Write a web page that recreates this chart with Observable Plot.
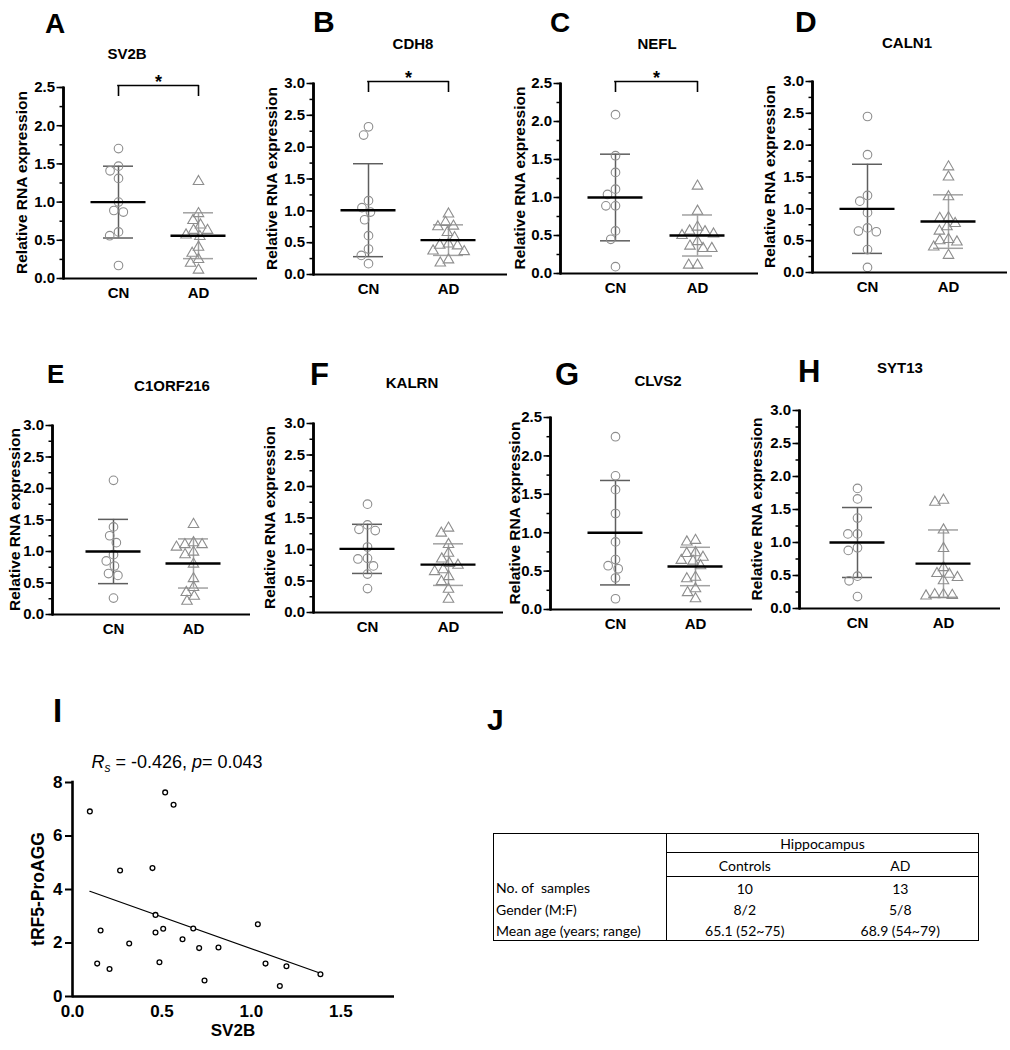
<!DOCTYPE html>
<html><head><meta charset="utf-8">
<script src="https://cdn.jsdelivr.net/npm/d3@7"></script>
<script src="https://cdn.jsdelivr.net/npm/@observablehq/plot@0.6"></script>
<style>
html,body{margin:0;padding:0;background:#fff;}
#fig{position:relative;width:1010px;height:1050px;background:#fff;overflow:hidden;}
#fig > svg{position:absolute;}
#tbl{position:absolute;left:493px;top:833px;width:485px;border-collapse:collapse;table-layout:fixed;
  font-family:Lato,"Liberation Sans",sans-serif;font-size:14px;line-height:1;color:#000;border:1.5px solid #000;}
#tbl td{padding:2px 2px 0 2px;white-space:pre;vertical-align:middle;}
#tbl td.ctr{text-align:center;}
#tbl td.c0{border-right:1.5px solid #000;}
#tbl td.hip{border-bottom:1.2px solid #000;}
#tbl tr.r1 td{height:16px;}
#tbl tr.r2 td{height:21px;border-bottom:1.5px solid #000;}
#tbl tr.d td{height:19px;}
</style></head>
<body><div id="fig"></div>
<script>
// ---------------- DATA ----------------
const genes = ["SV2B","CDH8","NEFL","CALN1","C1ORF216","KALRN","CLVS2","SYT13"];
const panelLetters = ["A","B","C","D","E","F","G","H"];
const groups = ["CN","AD"];
const yMax = [2.5,3.0,2.5,3.0,3.0,3.0,2.5,3.0];
const significant = [true,true,true,false,false,false,false,false];
const cnValues = [
  [1.70,1.47,1.41,1.31,1.00,0.89,0.87,0.61,0.56,0.17],
  [2.32,2.19,1.16,1.05,0.98,0.86,0.61,0.40,0.30,0.17],
  [2.09,1.55,1.33,1.11,1.04,0.89,0.89,0.56,0.45,0.09],
  [2.45,1.85,1.21,1.12,0.94,0.70,0.65,0.64,0.36,0.08],
  [2.13,1.39,1.25,1.14,0.95,0.85,0.77,0.65,0.62,0.26],
  [1.72,1.39,1.32,1.30,1.04,0.86,0.85,0.74,0.61,0.38],
  [2.25,1.74,1.56,1.25,0.88,0.65,0.57,0.53,0.41,0.14],
  [1.82,1.66,1.37,1.13,1.13,0.92,0.88,0.49,0.42,0.18]
];
const adValues = [
  [1.27,0.85,0.76,0.70,0.63,0.63,0.57,0.55,0.41,0.33,0.25,0.20,0.11],
  [0.95,0.82,0.76,0.75,0.66,0.58,0.48,0.46,0.45,0.37,0.36,0.23,0.18],
  [1.15,0.82,0.61,0.56,0.55,0.52,0.50,0.42,0.36,0.33,0.33,0.11,0.11],
  [1.66,1.50,1.19,0.86,0.85,0.77,0.72,0.65,0.52,0.50,0.48,0.40,0.27],
  [1.43,1.14,1.11,1.11,1.07,0.99,0.95,0.80,0.57,0.43,0.35,0.29,0.21],
  [1.34,1.26,1.08,0.94,0.85,0.78,0.75,0.68,0.65,0.57,0.49,0.37,0.21],
  [0.90,0.88,0.74,0.73,0.68,0.64,0.63,0.57,0.42,0.40,0.27,0.22,0.14],
  [1.64,1.61,1.19,0.91,0.62,0.53,0.52,0.47,0.42,0.21,0.21,0.20,0.19]
];
const cnMean = [1.00,1.01,1.00,1.00,1.00,1.01,1.00,1.00];
const cnSD   = [0.47,0.73,0.57,0.70,0.51,0.39,0.68,0.53];
const adMean = [0.56,0.54,0.50,0.80,0.81,0.76,0.56,0.68];
const adSD   = [0.30,0.24,0.27,0.42,0.39,0.33,0.25,0.51];

// panel I
const sv2bX = [0.097,0.518,0.565,0.266,0.447,0.464,0.157,0.464,0.507,0.317,0.615,0.675,
               0.708,0.816,1.036,0.138,0.207,0.486,0.738,1.079,1.196,1.159,1.386];
const trfY  = [6.92,7.63,7.17,4.71,4.80,3.05,2.47,2.39,2.53,1.98,2.14,2.54,
               1.81,1.83,2.70,1.23,1.03,1.28,0.60,1.23,1.13,0.39,0.83];
const xTicksI = [0,0.5,1.0,1.5];
const yTicksI = [0,2,4,6,8];

// panel J table
const tableHeader = ["Hippocampus"];
const tableGroups = ["Controls","AD"];
const tableRows = [
  ["No. of  samples","10","13"],
  ["Gender (M:F)","8/2","5/8"],
  ["Mean age (years; range)","65.1 (52~75)","68.9 (54~79)"]
];

// ---------------- LAYOUT ----------------
const layout = [
  {ax:63,  top:87,  w:194, h:191, cn:55, ad:135, labX:22,  tx:127, ty:53,  lx:45,  ly:33,  ls:28},
  {ax:313, top:83,  w:194, h:191, cn:55, ad:135, labX:272, tx:413, ty:43,  lx:313, ly:32,  ls:30},
  {ax:560, top:83,  w:198, h:190, cn:55, ad:137, labX:520, tx:657, ty:43,  lx:550, ly:32,  ls:28},
  {ax:812, top:81,  w:195, h:191, cn:55, ad:136, labX:770, tx:907, ty:42,  lx:795, ly:32,  ls:30},
  {ax:52,  top:425, w:198, h:189, cn:61, ad:141, labX:15,  tx:172, ty:385, lx:47,  ly:383, ls:26},
  {ax:313, top:423, w:190, h:189, cn:54, ad:135, labX:270, tx:412, ty:382, lx:310, ly:385, ls:31},
  {ax:550, top:417, w:202, h:192, cn:65, ad:145, labX:515, tx:658, ty:380, lx:555, ly:385, ls:31},
  {ax:799, top:410, w:201, h:198, cn:58, ad:144, labX:757, tx:900, ty:367, lx:798, ly:382, ls:31}
];
const FONT = "'Liberation Sans', Arial, Helvetica, sans-serif";
const STYLE = {fontFamily: FONT, fontSize: "15px", fontWeight: "bold", color: "#000", background: "none", overflow: "visible"};
const fig = document.getElementById("fig");

function place(svg, left, top) {
  svg.style.left = left + "px";
  svg.style.top = top + "px";
  fig.appendChild(svg);
}

// ---------------- TEXT LAYER (underneath the charts) ----------------
(function () {
  const o = d3.create("svg").attr("width", 1010).attr("height", 1050)
    .style("left", "0px").style("top", "0px").style("pointer-events", "none")
    .attr("font-family", FONT).attr("fill", "#000");
  layout.forEach((L, i) => {
    o.append("text").attr("x", L.lx).attr("y", L.ly).attr("font-size", L.ls).attr("font-weight", "bold").text(panelLetters[i]);
    o.append("text").attr("x", L.tx).attr("y", L.ty + 5.5).attr("text-anchor", "middle")
      .attr("font-size", 15).attr("font-weight", "bold").text(genes[i]);
    o.append("text").attr("transform", `translate(${L.labX},${L.top + L.h / 2}) rotate(-90)`)
      .attr("text-anchor", "middle").attr("dy", "0.35em").attr("font-size", 15.5).attr("font-weight", "bold")
      .text("Relative RNA expression");
  });
  o.append("text").attr("x", 53).attr("y", 722).attr("font-size", 33).attr("font-weight", "bold").text("I");
  o.append("text").attr("x", 487).attr("y", 730).attr("font-size", 30).attr("font-weight", "bold").text("J");
  const t = o.append("text").attr("x", 177).attr("y", 768).attr("text-anchor", "middle").attr("font-size", 18);
  t.append("tspan").attr("font-style", "italic").text("R");
  t.append("tspan").attr("font-style", "italic").attr("font-size", 12).attr("dy", 4).text("s");
  t.append("tspan").attr("dy", -4).text(" = -0.426, ");
  t.append("tspan").attr("font-style", "italic").text("p");
  t.append("tspan").text("= 0.043");
  o.append("text").attr("x", 233).attr("y", 1036).attr("text-anchor", "middle").attr("font-size", 17)
    .attr("font-weight", "bold").text("SV2B");
  o.append("text").attr("transform", "translate(38,889) rotate(-90)").attr("text-anchor", "middle")
    .attr("dy", "0.35em").attr("font-size", 17.5).attr("font-weight", "bold").text("tRF5-ProAGG");
  fig.appendChild(o.node());
})();

function dotPanel(i) {
  const L = layout[i];
  const mL = 60, mR = 4, mT = 24, mB = 32;
  const dims = {width: mL + L.w + mR, height: mT + L.h + mB, marginLeft: mL, marginRight: mR, marginTop: mT, marginBottom: mB};
  const step = L.ad - L.cn, pin = 0.1, bw = step * (1 - pin), gap = step * pin;
  const lead = L.cn - bw / 2, outer = L.w - step * (2 - pin);
  const pout = outer / (2 * step), align = lead / outer;
  const ymax = yMax[i];
  const pxPerUnit = L.h / ymax;
  const cn = cnValues[i].map(v => ({g: "CN", v}));
  const ad = adValues[i].map(v => ({g: "AD", v}));
  const stats = [
    {g: "CN", m: cnMean[i], s: cnSD[i], c: "#5e5e5e"},
    {g: "AD", m: adMean[i], s: adSD[i], c: "#a2a2a2"}
  ];
  const eps = 1e-9;
  const major = d3.range(0, ymax + eps, 0.5);
  const minor = d3.range(0, ymax + eps, 0.25);
  const capInset = (bw - 30) / 2;
  const meanInset = (bw - 55) / 2;

  // data layer (faceted by group)
  const marks = [
    Plot.axisFx({anchor: "bottom", tickSize: 0, tickPadding: 9, label: null, fontSize: 15, fontWeight: "bold"}),
    Plot.ruleX(stats, {fx: "g", x: null, y1: d => d.m - d.s, y2: d => d.m + d.s, stroke: d => d.c, strokeWidth: 1.5}),
    Plot.tickY(stats, {fx: "g", y: d => d.m + d.s, stroke: d => d.c, strokeWidth: 1.5, inset: capInset}),
    Plot.tickY(stats, {fx: "g", y: d => d.m - d.s, stroke: d => d.c, strokeWidth: 1.5, inset: capInset}),
    Plot.dot(cn, Plot.dodgeX("middle", {fx: "g", y: "v", r: 4.3, padding: 8, stroke: "#8d8d8d", strokeWidth: 1.1, fill: "none"})),
    Plot.dot(ad, Plot.dodgeX("middle", {fx: "g", y: "v", r: 3.9, padding: 8.5, symbol: "triangle", stroke: "#8d8d8d", strokeWidth: 1.1, fill: "none"})),
    Plot.tickY(stats, {fx: "g", y: "m", stroke: "black", strokeWidth: 2.4, inset: meanInset})
  ];
  if (significant[i]) {
    const legLen = 11 / pxPerUnit;
    marks.push(
      Plot.ruleX(stats, {fx: "g", x: null, y1: ymax - legLen, y2: ymax, dy: -2, strokeWidth: 1.6}),
      Plot.ruleY([{g: "CN"}], {fx: "g", y: ymax, dy: -2, insetLeft: bw / 2 - 0.8, insetRight: -gap / 2, strokeWidth: 1.6}),
      Plot.ruleY([{g: "AD"}], {fx: "g", y: ymax, dy: -2, insetLeft: -gap / 2, insetRight: bw / 2 - 0.8, strokeWidth: 1.6}),
      Plot.text([{g: "CN"}], {fx: "g", y: ymax, text: () => "*", dx: step / 2, dy: -5, fontSize: 18, fontWeight: "bold"})
    );
  }
  const data = Plot.plot({
    ...dims,
    fx: {domain: groups, paddingInner: pin, paddingOuter: pout, align, round: false, label: null},
    y: {domain: [0, ymax], label: null, axis: null},
    style: STYLE,
    marks
  });
  place(data, L.ax - mL, L.top - mT);

  // tick layer (not faceted)
  const axes = Plot.plot({
    ...dims,
    x: {domain: [0, 1], axis: null},
    y: {domain: [0, ymax], label: null},
    style: STYLE,
    marks: [
      Plot.axisY(minor, {tickSize: 3.5, tickFormat: () => "", strokeWidth: 1.5, label: null}),
      Plot.axisY(major, {tickSize: 6.5, tickPadding: 2, tickFormat: d3.format(".1f"),
        strokeWidth: 1.5, label: null, fontSize: 15, fontWeight: "bold"}),
      Plot.ruleY([0], {strokeWidth: 2.2})
    ]
  });
  place(axes, L.ax - mL, L.top - mT);

  // axis-line layer: minimal plot, on top
  const line = Plot.plot({
    ...dims,
    x: {domain: [0, 1], axis: null},
    y: {domain: [0, ymax], axis: null},
    style: {background: "none", overflow: "visible"},
    marks: [
      Plot.frame({anchor: "left", stroke: "black", strokeWidth: 2.2}),
      Plot.ruleX([0], {stroke: "black", strokeWidth: 2.2}),
      Plot.line([[0, 0], [0, ymax]], {stroke: "black", strokeWidth: 2.2})
    ]
  });
  place(line, L.ax - mL, L.top - mT);
}
for (let i = 0; i < genes.length; i++) dotPanel(i);

// ---------------- PANEL I ----------------
(function () {
  const mL = 60, mR = 10, mT = 20, mB = 34, w = 322, h = 214;
  const pts = sv2bX.map((x, k) => ({x, y: trfY[k]}));
  const svg = Plot.plot({
    width: mL + w + mR, height: mT + h + mB,
    marginLeft: mL, marginRight: mR, marginTop: mT, marginBottom: mB,
    x: {domain: [0, 1.8], label: null},
    y: {domain: [0, 8], label: null},
    style: {...STYLE, fontSize: "17px"},
    marks: [
      Plot.axisY(yTicksI, {tickSize: 7, tickPadding: 3, strokeWidth: 2, label: null, fontSize: 17, fontWeight: "bold"}),
      Plot.axisX(xTicksI, {tickSize: 0, tickPadding: 8, tickFormat: d3.format(".1f"), label: null, fontSize: 17, fontWeight: "bold"}),
      Plot.linearRegressionY(pts, {x: "x", y: "y", ci: 0, stroke: "black", strokeWidth: 1.2}),
      Plot.dot(pts, {x: "x", y: "y", r: 2.4, stroke: "black", strokeWidth: 1.3, fill: "white"}),
      Plot.ruleY([0], {strokeWidth: 2.6}),
      Plot.ruleX([0], {strokeWidth: 2.6, strokeLinecap: "square"})
    ]
  });
  place(svg, 72 - mL, 782 - mT);
})();

// ---------------- TABLE J ----------------
(function () {
  const t = document.createElement("table");
  t.id = "tbl";
  let html = '<colgroup><col style="width:173px"><col style="width:156px"><col style="width:156px"></colgroup>';
  html += `<tr class="r1"><td rowspan="2" class="c0"></td><td colspan="2" class="ctr hip">${tableHeader[0]}</td></tr>`;
  html += `<tr class="r2"><td class="ctr">${tableGroups[0]}</td><td class="ctr">${tableGroups[1]}</td></tr>`;
  for (const r of tableRows) html += `<tr class="d"><td class="c0">${r[0]}</td><td class="ctr">${r[1]}</td><td class="ctr">${r[2]}</td></tr>`;
  t.innerHTML = html;
  fig.appendChild(t);
})();
</script>
</body></html>
